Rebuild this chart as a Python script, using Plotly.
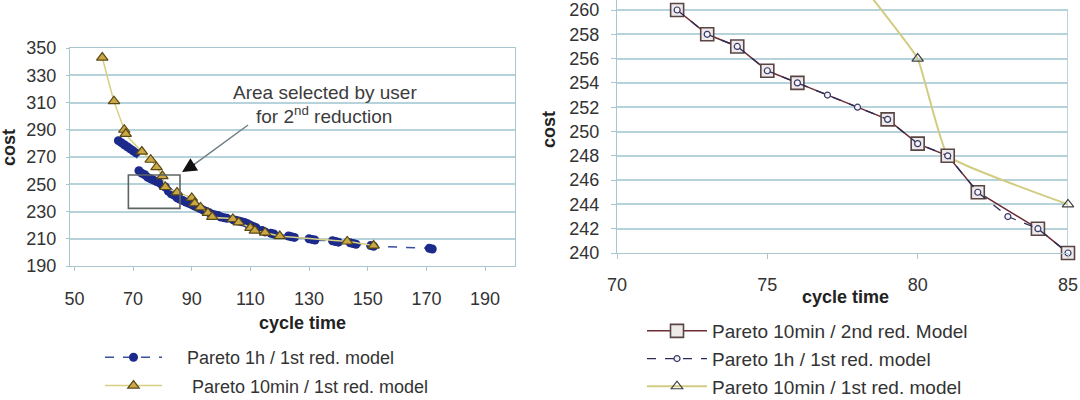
import plotly.graph_objects as go

# ---------------- data ----------------
# Pareto 1h / 1st red. model (left chart, dense front)
h1_x = [65, 66, 67, 68, 69, 70, 71,
        72, 73, 74, 75, 76, 77, 78, 79, 80, 81, 82, 83, 84, 85,
        86, 87, 88, 89, 90, 91, 92, 93, 94, 95, 96, 97, 98, 99, 100, 101, 102,
        104, 105, 106, 107, 108, 109, 110, 111, 112, 114, 115, 117, 118,
        123, 124, 125, 130, 131, 132, 138, 139, 140, 144, 145, 146, 151, 152, 171, 172]
h1_y = [282, 280.5, 279, 277.5, 276, 274.5, 273,
        260, 258, 257, 255, 254, 253, 252, 251, 249, 248, 245, 243, 242, 240,
        239, 238, 237, 236, 235, 234, 233, 232, 231, 230, 229, 228, 227.5, 227, 226, 225.5, 225,
        224, 223.5, 223, 222.5, 222, 221, 220, 219, 218, 216, 215, 214, 213.5,
        212, 211.5, 211, 210, 209.5, 209, 208.5, 208, 207.5, 207, 206.5, 206, 205, 204.5, 203, 202.5]

# Pareto 10min / 1st red. model
m10_x = [59.5, 63.5, 67, 67.5, 73, 76, 78, 80, 81, 85, 90, 91, 93, 95.5, 97,
         104, 106, 110, 111.5, 115, 120, 143, 152]
m10_y = [343, 311, 290, 287, 274, 268, 262.5, 256, 248, 244, 240, 236, 233, 229, 226,
         224.5, 222, 218, 216, 214.5, 212, 208, 205]

# Pareto 10min / 2nd red. Model (right chart)
m2_x = [72, 73, 74, 75, 76, 79, 80, 81, 82, 84, 85]
m2_y = [260, 258, 257, 255, 254, 251, 249, 248, 245, 242, 240]

# selected area (left chart) and zoom window
sel_x = [68.4, 86.0]
sel_y = [232.3, 256.8]
zoom_x = [70, 85]
zoom_y = [240, 260]

left_xticks = [50, 70, 90, 110, 130, 150, 170, 190]
left_yticks = [190, 210, 230, 250, 270, 290, 310, 330, 350]
right_xticks = [70, 75, 80, 85]
right_yticks = list(range(240, 262, 2))

# points of the 1h front inside the zoom window
h1z = [(x, y) for x, y in zip(h1_x, h1_y) if zoom_x[0] <= x <= zoom_x[1] and y <= zoom_y[1]]
h1z_x = [p[0] for p in h1z]
h1z_y = [p[1] for p in h1z]

FONT = "Liberation Sans, Arial, sans-serif"
TXT = "#333333"
GRID = "#b6d2da"
AXL = "#a9c6ce"

fig = go.Figure()

# ---------------- left chart ----------------
fig.add_trace(go.Scatter(
    x=h1_x, y=h1_y, mode="lines+markers", name="\u00a0\u00a0\u00a0\u00a0Pareto 1h / 1st red. model",
    line=dict(color="#3a4f9e", width=1.5, dash="dash"),
    marker=dict(symbol="circle", size=9, color="#1c2a8c", line=dict(width=0)),
    legendgroup="a", xaxis="x", yaxis="y", legend="legend"))
fig.add_trace(go.Scatter(
    x=m10_x, y=m10_y, mode="lines+markers",
    name="\u00a0\u00a0\u00a0\u00a0\u00a0Pareto 10min / 1st red. model",
    line=dict(color="#d8cf82", width=1.5, shape="spline", smoothing=0.5),
    marker=dict(symbol="triangle-up", size=10, color="#c9a845",
                line=dict(color="#5a4815", width=1.2)),
    legendgroup="b", xaxis="x", yaxis="y", legend="legend"))

# ---------------- right chart ----------------
fig.add_trace(go.Scatter(
    x=m10_x, y=m10_y, mode="lines+markers", name="Pareto 10min / 1st red. model",
    line=dict(color="#d2cc82", width=2, shape="spline", smoothing=0.3),
    marker=dict(symbol="triangle-up-open", size=10, color="#404040", line=dict(width=1.2)),
    cliponaxis=False, legendrank=3, legendgroup="e",
    xaxis="x2", yaxis="y2", legend="legend2"))
fig.add_trace(go.Scatter(
    x=m2_x, y=m2_y, mode="lines+markers", name="Pareto 10min / 2nd red. Model",
    line=dict(color="#6b2c36", width=1.5),
    marker=dict(symbol="square", size=13, color="#eeeaea",
                line=dict(color="#5a4545", width=1.6)),
    cliponaxis=False, legendrank=1, legendgroup="c",
    xaxis="x2", yaxis="y2", legend="legend2"))
fig.add_trace(go.Scatter(
    x=h1z_x, y=h1z_y, mode="lines+markers", name="Pareto 1h / 1st red. model",
    line=dict(color="#2b2b55", width=1.3, dash="dash"),
    marker=dict(symbol="circle", size=6, color="#f4f4f8",
                line=dict(color="#38386a", width=1.2)),
    cliponaxis=False, legendrank=2, legendgroup="d",
    xaxis="x2", yaxis="y2", legend="legend2"))

tickfont = dict(family=FONT, size=18, color=TXT)
y2_top = zoom_y[0] + (zoom_y[1] - zoom_y[0]) * 253 / 243

fig.update_layout(
    width=1080, height=400, margin=dict(l=0, r=0, t=0, b=0, autoexpand=False),
    paper_bgcolor="white", plot_bgcolor="white",
    font=dict(family=FONT, size=18, color=TXT),
    xaxis=dict(domain=[70 / 1080, 515 / 1080], range=[48.5, 200.2], tickvals=left_xticks,
               showgrid=False, zeroline=False, showline=True, linecolor=AXL, mirror=True,
               ticks="outside", ticklen=4, tickcolor=AXL, tickfont=tickfont,
               ticklabelstandoff=12, anchor="y"),
    yaxis=dict(domain=[1 - 266 / 400, 1 - 48 / 400], range=[190, 350], tickvals=left_yticks,
               showgrid=True, gridcolor=GRID, gridwidth=1.5, zeroline=False, showline=True,
               linecolor=AXL, mirror=True, ticks="outside", ticklen=3, tickcolor=AXL,
               tickfont=tickfont, ticklabelstandoff=6, anchor="x"),
    xaxis2=dict(domain=[617 / 1080, 1068 / 1080], range=zoom_x, tickvals=right_xticks,
                showgrid=False, zeroline=False, showline=True, linecolor=AXL,
                ticks="outside", ticklen=5, tickcolor=AXL, tickfont=tickfont,
                ticklabelstandoff=10, anchor="y2"),
    yaxis2=dict(domain=[1 - 253 / 400, 1.0], range=[zoom_y[0], y2_top], tickvals=right_yticks,
                showgrid=True, gridcolor=GRID, gridwidth=1.5, zeroline=False, showline=True,
                linecolor=AXL, ticks="outside", ticklen=5, tickcolor=AXL, tickfont=tickfont,
                ticklabelstandoff=8, anchor="x2"),
    legend=dict(x=100 / 1080, xanchor="left", y=1 - 339 / 400, yanchor="top",
                bgcolor="rgba(0,0,0,0)", itemwidth=57, tracegroupgap=2,
                traceorder="grouped",
                font=dict(family=FONT, size=18, color=TXT)),
    legend2=dict(x=642 / 1080, xanchor="left", y=1 - 312 / 400, yanchor="top",
                 bgcolor="rgba(0,0,0,0)", itemwidth=60, tracegroupgap=0,
                 traceorder="grouped",
                 font=dict(family=FONT, size=19, color=TXT)),
    showlegend=True,
)

# right border of zoom chart
fig.add_shape(type="line", xref="x2", yref="y2", x0=zoom_x[1], x1=zoom_x[1],
              y0=zoom_y[0], y1=zoom_y[1], line=dict(color=AXL, width=1.5), layer="below")

# selection rectangle
fig.add_shape(type="rect", xref="x", yref="y", x0=sel_x[0], x1=sel_x[1], y0=sel_y[0], y1=sel_y[1],
              line=dict(color="#5e6466", width=1.6), fillcolor="rgba(0,0,0,0)")
# arrow
fig.add_shape(type="line", xref="x", yref="y", x0=109.2, y0=293.5, x1=90.5, y1=264.0,
              line=dict(color="#6f7f86", width=1.5))
fig.add_annotation(x=86.7, y=259.0, ax=91.5, ay=265.5, xref="x", yref="y", axref="x", ayref="y",
                   text="", showarrow=True, arrowhead=2, arrowsize=1.8, arrowwidth=1.6,
                   arrowcolor="#111111")

ann_font = dict(family=FONT, size=19, color="#3c3c3c")
fig.add_annotation(x=325 / 1080, y=1 - 92 / 400, xref="paper", yref="paper",
                   xanchor="center", yanchor="middle",
                   text="Area selected by user", showarrow=False, font=ann_font)
fig.add_annotation(x=324 / 1080, y=1 - 115 / 400, xref="paper", yref="paper",
                   xanchor="center", yanchor="middle",
                   text="for 2<sup>nd</sup> reduction", showarrow=False, font=ann_font)

title_font = dict(family=FONT, size=18, color="#222222")
for tx, ty, txt, ang in [(9, 148, "<b>cost</b>", -90), (549, 130, "<b>cost</b>", -90),
                         (302, 323, "<b>cycle time</b>", 0), (845, 297, "<b>cycle time</b>", 0)]:
    fig.add_annotation(x=tx / 1080, y=1 - ty / 400, xref="paper", yref="paper",
                       xanchor="center", yanchor="middle", text=txt, textangle=ang,
                       showarrow=False, font=title_font)

fig.write_html("out.html")
